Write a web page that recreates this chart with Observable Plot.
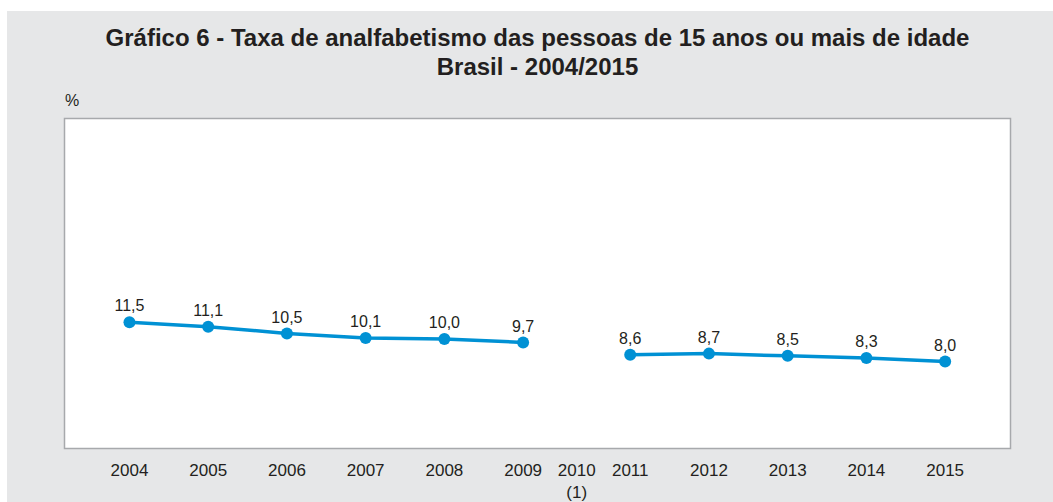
<!DOCTYPE html>
<html>
<head>
<meta charset="utf-8">
<script src="https://cdn.jsdelivr.net/npm/d3@7"></script>
<script src="https://cdn.jsdelivr.net/npm/@observablehq/plot@0.6"></script>
<style>
  html, body { margin: 0; padding: 0; background: #ffffff; }
  body { width: 1053px; height: 502px; position: relative; overflow: hidden; font-family: "Liberation Sans", Arial, sans-serif; }
  #bg { position: absolute; left: 7px; top: 11px; width: 1046px; height: 491px; background: #e6e7e8; }
  #title { position: absolute; left: 0; top: 24px; width: 1075px; text-align: center; font-weight: bold; font-size: 24px; line-height: 28.5px; color: #231f20; }
  #unit { position: absolute; left: 65px; top: 92px; font-size: 16px; color: #231f20; }
  #chart { position: absolute; left: 0; top: 90px; }
</style>
</head>
<body>
<div id="bg"></div>
<div id="title">Gráfico 6 - Taxa de analfabetismo das pessoas de 15 anos ou mais de idade<br>Brasil - 2004/2015</div>
<div id="unit">%</div>
<div id="chart"></div>
<script>
// Data
const years = ["2004","2005","2006","2007","2008","2009","2010","2011","2012","2013","2014","2015"];
const rates = [11.5, 11.1, 10.5, 10.1, 10.0, 9.7, null, 8.6, 8.7, 8.5, 8.3, 8.0];
// category slot along the x axis (2010 squeezed between 2009 and 2011, as in the original)
const slots = [0, 1, 2, 3, 4, 5, 5.68, 6.36, 7.36, 8.36, 9.36, 10.36];
const tickLabels = ["2004","2005","2006","2007","2008","2009","2010\n(1)","2011","2012","2013","2014","2015"];

const data = years.map((y, i) => ({year: y, slot: slots[i], value: rates[i]}));
const points = data.filter(d => d.value != null);
const fmt = v => v.toFixed(1).replace(".", ",");
const blue = "#0091d4";

const chart = Plot.plot({
  width: 1053,
  height: 412,
  marginLeft: 64,
  marginRight: 43,
  marginTop: 28,
  marginBottom: 54,
  style: {background: "transparent", fontFamily: "'Liberation Sans', Arial, sans-serif", color: "#231f20", overflow: "visible"},
  x: {type: "linear", domain: [-0.825, 11.19]},
  y: {domain: [0.25, 29.64]},
  marks: [
    Plot.frame({fill: "white", stroke: "#a7a9ac", strokeWidth: 1.5}),
    Plot.axisX({
      ticks: slots,
      tickFormat: v => tickLabels[slots.indexOf(v)],
      tickSize: 0,
      tickPadding: 12,
      fontSize: 17,
      lineHeight: 1.3,
      fill: "#231f20",
      label: null
    }),
    Plot.axisY({ticks: [], label: null, tickSize: 0}),
    Plot.lineY(data, {x: "slot", y: "value", stroke: blue, strokeWidth: 3.5, curve: "linear"}),
    Plot.dot(points, {x: "slot", y: "value", r: 6, fill: blue, stroke: "none"}),
    Plot.text(points, {x: "slot", y: "value", text: d => fmt(d.value), dy: -16, fontSize: 16, fill: "#231f20", lineAnchor: "middle"})
  ]
});
document.getElementById("chart").appendChild(chart);
</script>
</body>
</html>
